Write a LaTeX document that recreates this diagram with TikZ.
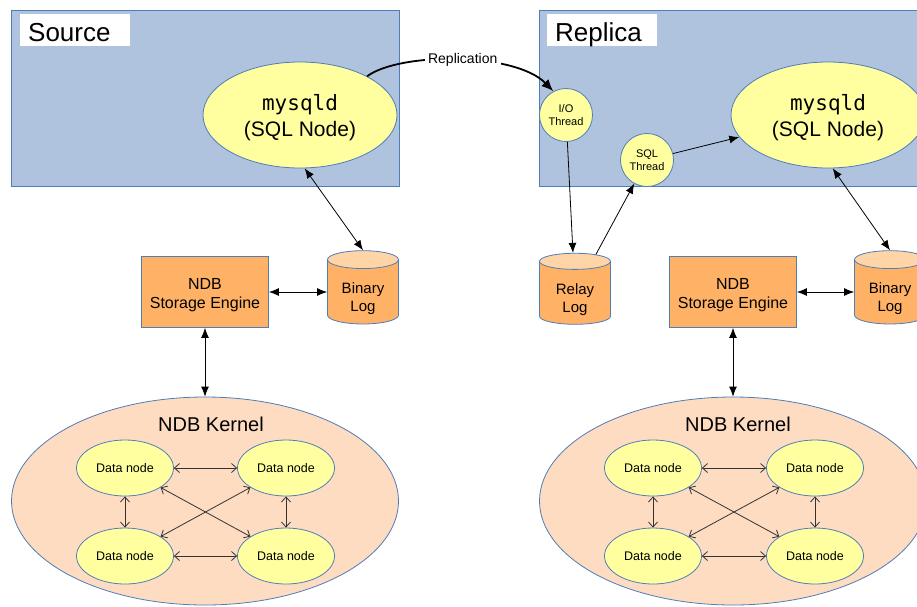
\documentclass[tikz,border=0pt]{standalone}
\usepackage{fontspec}
\setmainfont{Liberation Sans}
\setmonofont{DejaVu Sans Mono}
\usetikzlibrary{arrows.meta, shapes.geometric, positioning}
\definecolor{paneBlue}{HTML}{B0C3DE}
\definecolor{edgeBlue}{HTML}{4F7DB8}
\definecolor{nodeYellow}{HTML}{FFFF9F}
\definecolor{engOrange}{HTML}{FFB266}
\definecolor{logTop}{HTML}{FFD5A8}
\definecolor{kernelPeach}{HTML}{FDDCC2}
\definecolor{linkGray}{HTML}{333333}
\newcommand{\fsz}[2]{\fontsize{#1}{#2}\selectfont}

\begin{document}
\begin{tikzpicture}[x=1pt, y=-1pt,
    pane/.style={fill=paneBlue, draw=edgeBlue, line width=1.2pt, anchor=north west},
    sqlnode/.style={ellipse, fill=nodeYellow, draw=edgeBlue, line width=0.8pt, minimum width=194pt,
                    minimum height=106pt, inner sep=0pt, align=center, text height=48pt, font=\fsz{21}{26}},
    thread/.style={circle, fill=nodeYellow, draw=edgeBlue, line width=0.8pt, minimum size=53pt,
                   inner sep=0pt, align=center, font=\fsz{11}{13}},
    engine/.style={fill=engOrange, draw=edgeBlue, line width=0.8pt, minimum width=127pt,
                   minimum height=71pt, align=center, text height=37pt, font=\fsz{16}{19}},
    logdb/.style={cylinder, shape border rotate=90, aspect=0.42, cylinder uses custom fill,
                  cylinder body fill=engOrange, cylinder end fill=logTop, draw=edgeBlue, line width=0.8pt,
                  minimum width=71pt, minimum height=71pt, inner sep=0pt, align=center, text height=43pt,
                  font=\fsz{15}{18}},
    kernel/.style={ellipse, fill=kernelPeach, draw=edgeBlue, line width=0.8pt, minimum width=387pt,
                   minimum height=208pt},
    datanode/.style={ellipse, fill=nodeYellow, draw=edgeBlue, line width=0.8pt, minimum width=97pt,
                     minimum height=56pt, inner sep=0pt, font=\fsz{12.5}{14}},
    title/.style={anchor=north west, fill=white, text width=94pt, inner xsep=8pt, inner ysep=0pt,
                  text height=27pt, text depth=5pt, font=\fsz{26}{30}},
    arr/.style={-{Latex[length=10pt,width=8pt]}, line width=0.8pt},
    dbl/.style={{Latex[length=10pt,width=8pt]}-{Latex[length=10pt,width=8pt]}, line width=0.8pt},
    link/.style={{Straight Barb[length=5pt,width=9pt]}-{Straight Barb[length=5pt,width=9pt]},
                 draw=linkGray, line width=0.8pt},
    repl/.style={-{Latex[length=12pt,width=10pt]}, line width=1.8pt}]
  \clip (0,0) rectangle (917,606);
  \fill[white] (0,0) rectangle (917,606);

  % source side
  \node[pane, minimum width=388pt, minimum height=176pt] (srcpane) at (11,10) {};
  \node[title] (srctitle) at (20,14) {Source};
  \node[sqlnode] (srcsql) at (300,115) {{\ttfamily mysqld}\\(SQL Node)};
  \node[engine] (srceng) at (205,292) {NDB\\Storage Engine};
  \node[logdb] (srcbin) at (363,292) {Binary\\Log};
  \node[kernel] (srcker) at (205,501) {};
  \node[font=\fsz{20}{24}] (srckerlbl) at (211,424) {NDB Kernel};
  \node[datanode] (srcd1) at (125,468) {Data node};
  \node[datanode] (srcd2) at (286,468) {Data node};
  \node[datanode] (srcd3) at (125,556) {Data node};
  \node[datanode] (srcd4) at (286,556) {Data node};

  % replica side
  \node[pane, minimum width=400pt, minimum height=176pt] (reppane) at (539,10) {};
  \node[title] (reptitle) at (547,14) {Replica};
  \node[sqlnode] (repsql) at (828,115) {{\ttfamily mysqld}\\(SQL Node)};
  \node[thread] (io) at (566,115) {I/O\\Thread};
  \node[thread] (sqlth) at (647,160) {SQL\\Thread};
  \node[logdb] (relay) at (575,293) {Relay\\Log};
  \node[engine] (repeng) at (733,292) {NDB\\Storage Engine};
  \node[logdb] (repbin) at (890,292) {Binary\\Log};
  \node[kernel] (repker) at (733,501) {};
  \node[font=\fsz{20}{24}] (repkerlbl) at (738,424) {NDB Kernel};
  \node[datanode] (repd1) at (653,468) {Data node};
  \node[datanode] (repd2) at (815,468) {Data node};
  \node[datanode] (repd3) at (653,556) {Data node};
  \node[datanode] (repd4) at (815,556) {Data node};

  % connectors
  \draw[repl] (srcsql.30) .. controls (400,52) and (515,52) .. (io.118)
    node[pos=0.52, fill=white, font=\fsz{14}{16}] (repllbl) {Replication};
  \draw[arr] (io) -- (relay);
  \draw[arr] (relay) -- (sqlth);
  \draw[arr] (sqlth) -- (repsql);
  \draw[dbl] (srcsql.-85) -- (srcbin.top);
  \draw[dbl] (repsql.-85) -- (repbin.top);
  \draw[dbl] (srceng) -- (srcbin);
  \draw[dbl] (repeng) -- (repbin);
  \draw[dbl] (srceng) -- (srcker);
  \draw[dbl] (repeng) -- (repker);

  \draw[link] (srcd1) -- (srcd2);
  \draw[link] (srcd3) -- (srcd4);
  \draw[link] (srcd1) -- (srcd3);
  \draw[link] (srcd2) -- (srcd4);
  \draw[link] (srcd1) -- (srcd4);
  \draw[link] (srcd2) -- (srcd3);
  \draw[link] (repd1) -- (repd2);
  \draw[link] (repd3) -- (repd4);
  \draw[link] (repd1) -- (repd3);
  \draw[link] (repd2) -- (repd4);
  \draw[link] (repd1) -- (repd4);
  \draw[link] (repd2) -- (repd3);
\end{tikzpicture}
\end{document}
